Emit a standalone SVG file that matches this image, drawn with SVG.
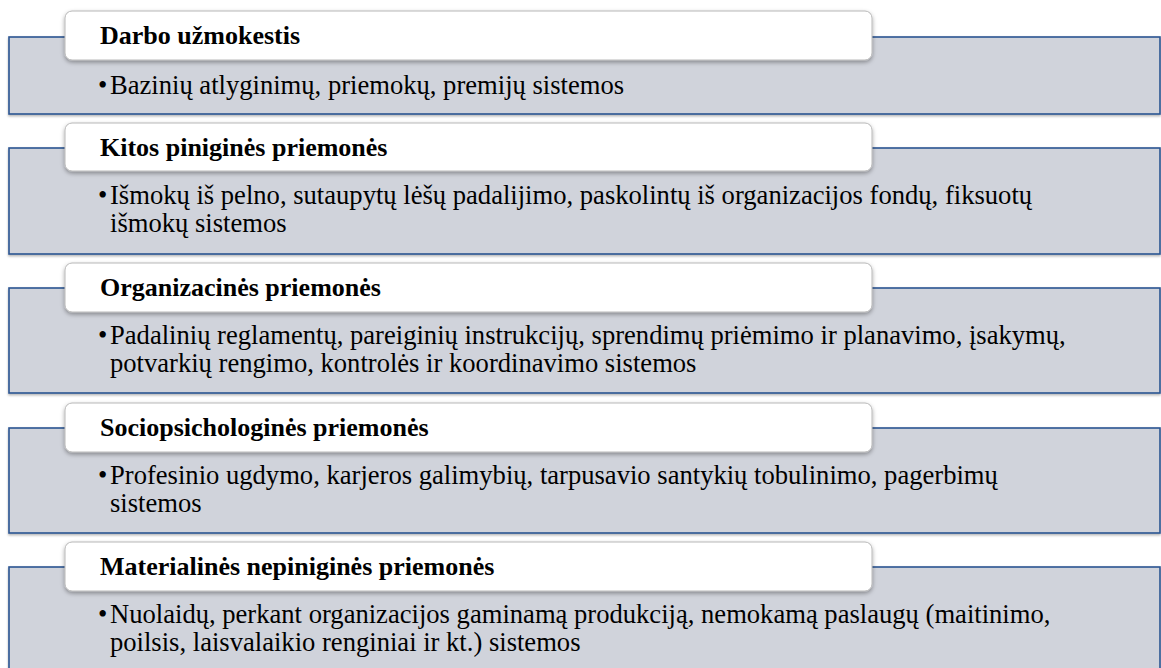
<svg xmlns="http://www.w3.org/2000/svg" width="1161" height="668" viewBox="0 0 1161 668">
<defs>
<filter id="sh" x="-5%" y="-30%" width="110%" height="170%">
<feDropShadow dx="0" dy="2" stdDeviation="2" flood-color="#000" flood-opacity="0.35"/>
</filter>
<filter id="sh2" x="-2%" y="-10%" width="104%" height="130%">
<feDropShadow dx="0" dy="1.5" stdDeviation="0.8" flood-color="#000" flood-opacity="0.3"/>
</filter>
</defs>
<style>
.band{fill:#D0D3DB;stroke:#2B5592;stroke-width:1.6}
.lab{fill:#FFFFFF;stroke:#B8B8B8;stroke-width:1}
.lt{font-family:"Liberation Serif","Times New Roman",serif;font-weight:bold;font-size:26px;fill:#000}
.bt{font-family:"Liberation Serif","Times New Roman",serif;font-size:26.6px;fill:#000}
</style>
<rect width="1161" height="668" fill="#FFFFFF"/>
<g id="n1">
<rect class="band" x="9" y="37" width="1151" height="77" filter="url(#sh2)"/>
<rect class="lab" x="65" y="11" width="807" height="49" rx="7" filter="url(#sh)"/>
<text class="lt" x="100" y="44">Darbo užmokestis</text>
<text class="bt" x="98" y="94">•</text>
<text class="bt" x="110" y="94">Bazinių atlyginimų, priemokų, premijų sistemos</text>
</g>
<g id="n2">
<rect class="band" x="9" y="148" width="1151" height="106" filter="url(#sh2)"/>
<rect class="lab" x="65" y="123" width="807" height="48" rx="7" filter="url(#sh)"/>
<text class="lt" x="100" y="156">Kitos piniginės priemonės</text>
<text class="bt" x="98" y="204">•</text>
<text class="bt" x="110" y="204">Išmokų iš pelno, sutaupytų lėšų padalijimo, paskolintų iš organizacijos fondų, fiksuotų</text>
<text class="bt" x="110" y="232">išmokų sistemos</text>
</g>
<g id="n3">
<rect class="band" x="9" y="288" width="1151" height="105" filter="url(#sh2)"/>
<rect class="lab" x="65" y="263" width="807" height="49" rx="7" filter="url(#sh)"/>
<text class="lt" x="100" y="296">Organizacinės priemonės</text>
<text class="bt" x="98" y="344">•</text>
<text class="bt" x="110" y="344">Padalinių reglamentų, pareiginių instrukcijų, sprendimų priėmimo ir planavimo, įsakymų,</text>
<text class="bt" x="110" y="372">potvarkių rengimo, kontrolės ir koordinavimo sistemos</text>
</g>
<g id="n4">
<rect class="band" x="9" y="428" width="1151" height="105" filter="url(#sh2)"/>
<rect class="lab" x="65" y="403" width="807" height="49" rx="7" filter="url(#sh)"/>
<text class="lt" x="100" y="436">Sociopsichologinės priemonės</text>
<text class="bt" x="98" y="484">•</text>
<text class="bt" x="110" y="484">Profesinio ugdymo, karjeros galimybių, tarpusavio santykių tobulinimo, pagerbimų</text>
<text class="bt" x="110" y="512">sistemos</text>
</g>
<g id="n5">
<rect class="band" x="9" y="567" width="1151" height="110" filter="url(#sh2)"/>
<rect class="lab" x="65" y="542" width="807" height="49" rx="7" filter="url(#sh)"/>
<text class="lt" x="100" y="575">Materialinės nepiniginės priemonės</text>
<text class="bt" x="98" y="623">•</text>
<text class="bt" x="110" y="623">Nuolaidų, perkant organizacijos gaminamą produkciją, nemokamą paslaugų (maitinimo,</text>
<text class="bt" x="110" y="651">poilsis, laisvalaikio renginiai ir kt.) sistemos</text>
</g>
<g id="connectors"></g>
</svg>
